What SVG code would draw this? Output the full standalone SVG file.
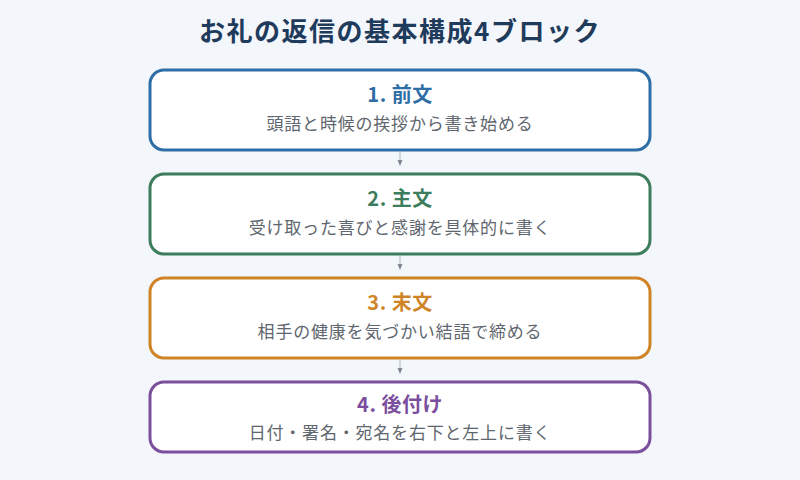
<svg xmlns="http://www.w3.org/2000/svg" width="800" height="480" viewBox="0 0 800 480">
<defs>
<style>
text{font-family:"Noto Sans CJK JP","Noto Sans",sans-serif;text-anchor:middle}
.ttl{font-size:26px;font-weight:bold;fill:#1f3b5c;letter-spacing:1.5px}
.box{fill:#ffffff;stroke-width:3}
.hd{font-size:20px;font-weight:bold;letter-spacing:0.5px}
.sub{font-size:17px;fill:#60666e;letter-spacing:0.8px}
.conn{stroke:#c3ccd8;stroke-width:1.5;fill:none}
</style>
<marker id="ah" markerWidth="6" markerHeight="6" refX="3" refY="3" orient="auto" markerUnits="userSpaceOnUse">
<path d="M0,0.5 L6,3 L0,5.5 Z" fill="#7d8896"/>
</marker>
</defs>
<rect width="800" height="480" fill="#f3f6fa"/>
<text class="ttl" x="400" y="41">お礼の返信の基本構成4ブロック</text>
<g id="connectors">
<line class="conn" x1="400" y1="151.5" x2="400" y2="163" marker-end="url(#ah)"/>
<line class="conn" x1="400" y1="255.5" x2="400" y2="267" marker-end="url(#ah)"/>
<line class="conn" x1="400" y1="359.5" x2="400" y2="371" marker-end="url(#ah)"/>
</g>
<g id="node1">
<rect class="box" x="150" y="70" width="500" height="80" rx="14" stroke="#2e6ea6"/>
<text class="hd" x="400" y="102" fill="#2e6ea6">1. 前文</text>
<text class="sub" x="400" y="130">頭語と時候の挨拶から書き始める</text>
</g>
<g id="node2">
<rect class="box" x="150" y="174" width="500" height="80" rx="14" stroke="#3b7d5d"/>
<text class="hd" x="400" y="206" fill="#3b7d5d">2. 主文</text>
<text class="sub" x="400" y="234">受け取った喜びと感謝を具体的に書く</text>
</g>
<g id="node3">
<rect class="box" x="150" y="278" width="500" height="80" rx="14" stroke="#cf8527"/>
<text class="hd" x="400" y="310" fill="#cf8527">3. 末文</text>
<text class="sub" x="400" y="338">相手の健康を気づかい結語で締める</text>
</g>
<g id="node4">
<rect class="box" x="150" y="382" width="500" height="70" rx="14" stroke="#7b4f9d"/>
<text class="hd" x="400" y="412" fill="#7b4f9d">4. 後付け</text>
<text class="sub" x="400" y="439">日付・署名・宛名を右下と左上に書く</text>
</g>
</svg>
